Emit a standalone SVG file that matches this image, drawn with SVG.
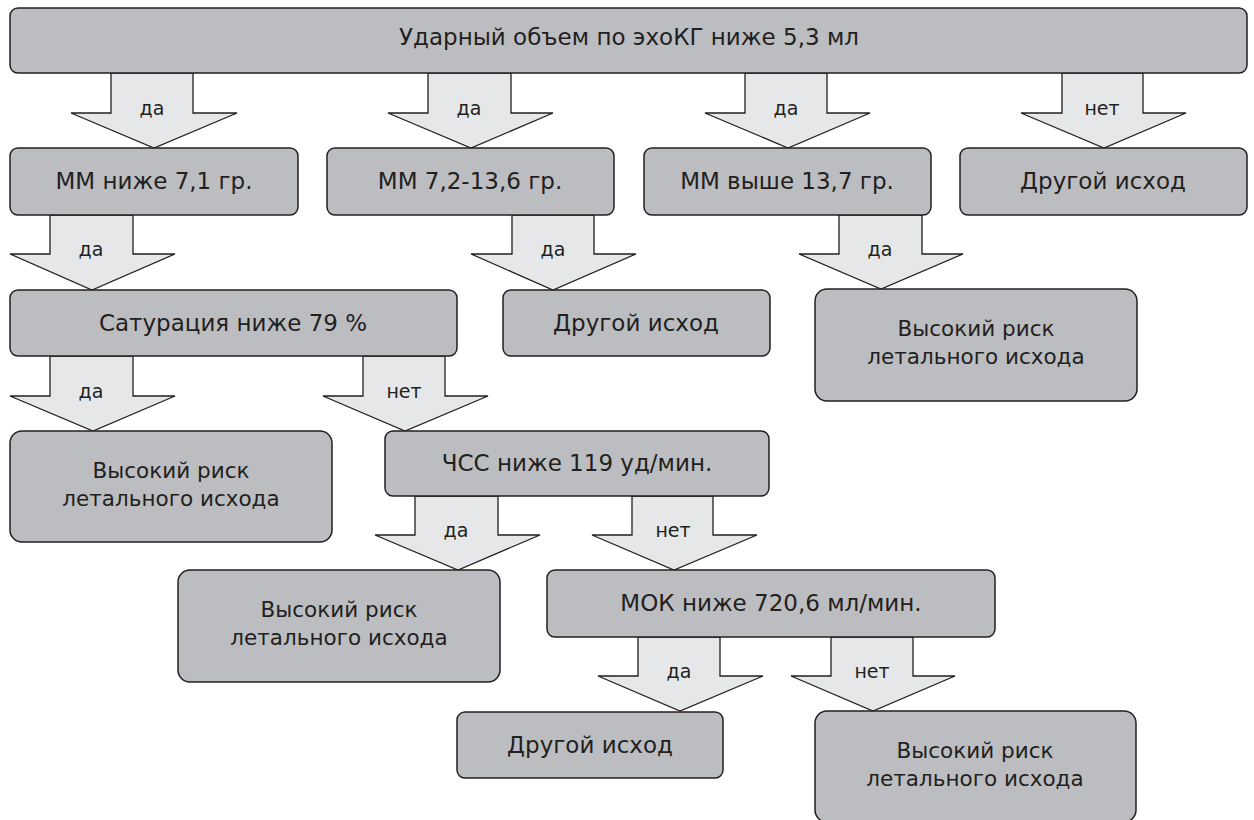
<svg xmlns="http://www.w3.org/2000/svg" width="1254" height="820" viewBox="0 0 1254 820">
<style>
.box{fill:#bcbdc0;stroke:#231f20;stroke-width:1.5}
.arr{fill:#e6e7e8;stroke:#231f20;stroke-width:1.3;stroke-linejoin:miter}
text{font-family:'DejaVu Sans','Liberation Sans',sans-serif;fill:#231f20;text-anchor:middle}
.t{font-size:23px}
.r{font-size:21.5px}
.l{font-size:19px}
</style>
<rect width="1254" height="820" fill="#fff"/>
<g id="connectors">
<polygon class="arr" points="111,73 193,73 193,113 237,113 154,148 71,113 111,113"/>
<polygon class="arr" points="428,73 511,73 511,113 553,113 471,148 388,113 428,113"/>
<polygon class="arr" points="745,73 827,73 827,113 870,113 788,148 705,113 745,113"/>
<polygon class="arr" points="1062,73 1143,73 1143,113 1186,113 1104,148 1021,113 1062,113"/>
<polygon class="arr" points="50,215 133,215 133,254 175,254 92,290 10,254 50,254"/>
<polygon class="arr" points="512,215 594,215 594,254 636,254 553,290 471,254 512,254"/>
<polygon class="arr" points="839,215 922,215 922,254 963,254 881,289 799,254 839,254"/>
<polygon class="arr" points="50,356 133,356 133,396 175,396 93,431 10,396 50,396"/>
<polygon class="arr" points="363,356 445,356 445,396 488,396 405,431 323,396 363,396"/>
<polygon class="arr" points="415,496 498,496 498,535 540,535 458,570 375,535 415,535"/>
<polygon class="arr" points="632,496 713,496 713,535 757,535 674,570 592,535 632,535"/>
<polygon class="arr" points="638,637 720,637 720,676 763,676 680,711 598,676 638,676"/>
<polygon class="arr" points="831,637 913,637 913,676 955,676 873,711 791,676 831,676"/>
<text class="l" x="152" y="115">да</text>
<text class="l" x="469" y="115">да</text>
<text class="l" x="786" y="115">да</text>
<text class="l" x="1102" y="115">нет</text>
<text class="l" x="91" y="256">да</text>
<text class="l" x="553" y="256">да</text>
<text class="l" x="880" y="256">да</text>
<text class="l" x="91" y="398">да</text>
<text class="l" x="404" y="398">нет</text>
<text class="l" x="456" y="537">да</text>
<text class="l" x="673" y="537">нет</text>
<text class="l" x="679" y="678">да</text>
<text class="l" x="872" y="678">нет</text>
</g>
<g id="n_top"><rect class="box" x="10" y="8" width="1237" height="65" rx="8"/><text class="t" x="629" y="45">Ударный объем по эхоКГ ниже 5,3 мл</text></g>
<g id="n_mm1"><rect class="box" x="10" y="148" width="288" height="67" rx="8"/><text class="t" x="154" y="189">ММ ниже 7,1 гр.</text></g>
<g id="n_mm2"><rect class="box" x="327" y="148" width="287" height="67" rx="8"/><text class="t" x="470" y="189">ММ 7,2-13,6 гр.</text></g>
<g id="n_mm3"><rect class="box" x="644" y="148" width="287" height="67" rx="8"/><text class="t" x="787" y="189">ММ выше 13,7 гр.</text></g>
<g id="n_other1"><rect class="box" x="960" y="148" width="287" height="67" rx="8"/><text class="t" x="1103" y="189">Другой исход</text></g>
<g id="n_sat"><rect class="box" x="10" y="290" width="447" height="66" rx="8"/><text class="t" x="233" y="331">Сатурация ниже 79 %</text></g>
<g id="n_other2"><rect class="box" x="503" y="290" width="267" height="66" rx="8"/><text class="t" x="636" y="331">Другой исход</text></g>
<g id="n_risk1"><rect class="box" x="815" y="289" width="322" height="112" rx="12"/><text class="r" x="976" y="336">Высокий риск</text><text class="r" x="976" y="364">летального исхода</text></g>
<g id="n_risk2"><rect class="box" x="10" y="431" width="322" height="111" rx="12"/><text class="r" x="171" y="478">Высокий риск</text><text class="r" x="171" y="506">летального исхода</text></g>
<g id="n_hr"><rect class="box" x="385" y="431" width="384" height="65" rx="8"/><text class="t" x="577" y="471">ЧСС ниже 119 уд/мин.</text></g>
<g id="n_risk3"><rect class="box" x="178" y="570" width="322" height="112" rx="12"/><text class="r" x="339" y="617">Высокий риск</text><text class="r" x="339" y="645">летального исхода</text></g>
<g id="n_mok"><rect class="box" x="547" y="570" width="448" height="67" rx="8"/><text class="t" x="771" y="611">МОК ниже 720,6 мл/мин.</text></g>
<g id="n_other3"><rect class="box" x="457" y="712" width="266" height="66" rx="8"/><text class="t" x="590" y="753">Другой исход</text></g>
<g id="n_risk4"><rect class="box" x="815" y="711" width="321" height="111" rx="12"/><text class="r" x="975" y="758">Высокий риск</text><text class="r" x="975" y="786">летального исхода</text></g>
</svg>
